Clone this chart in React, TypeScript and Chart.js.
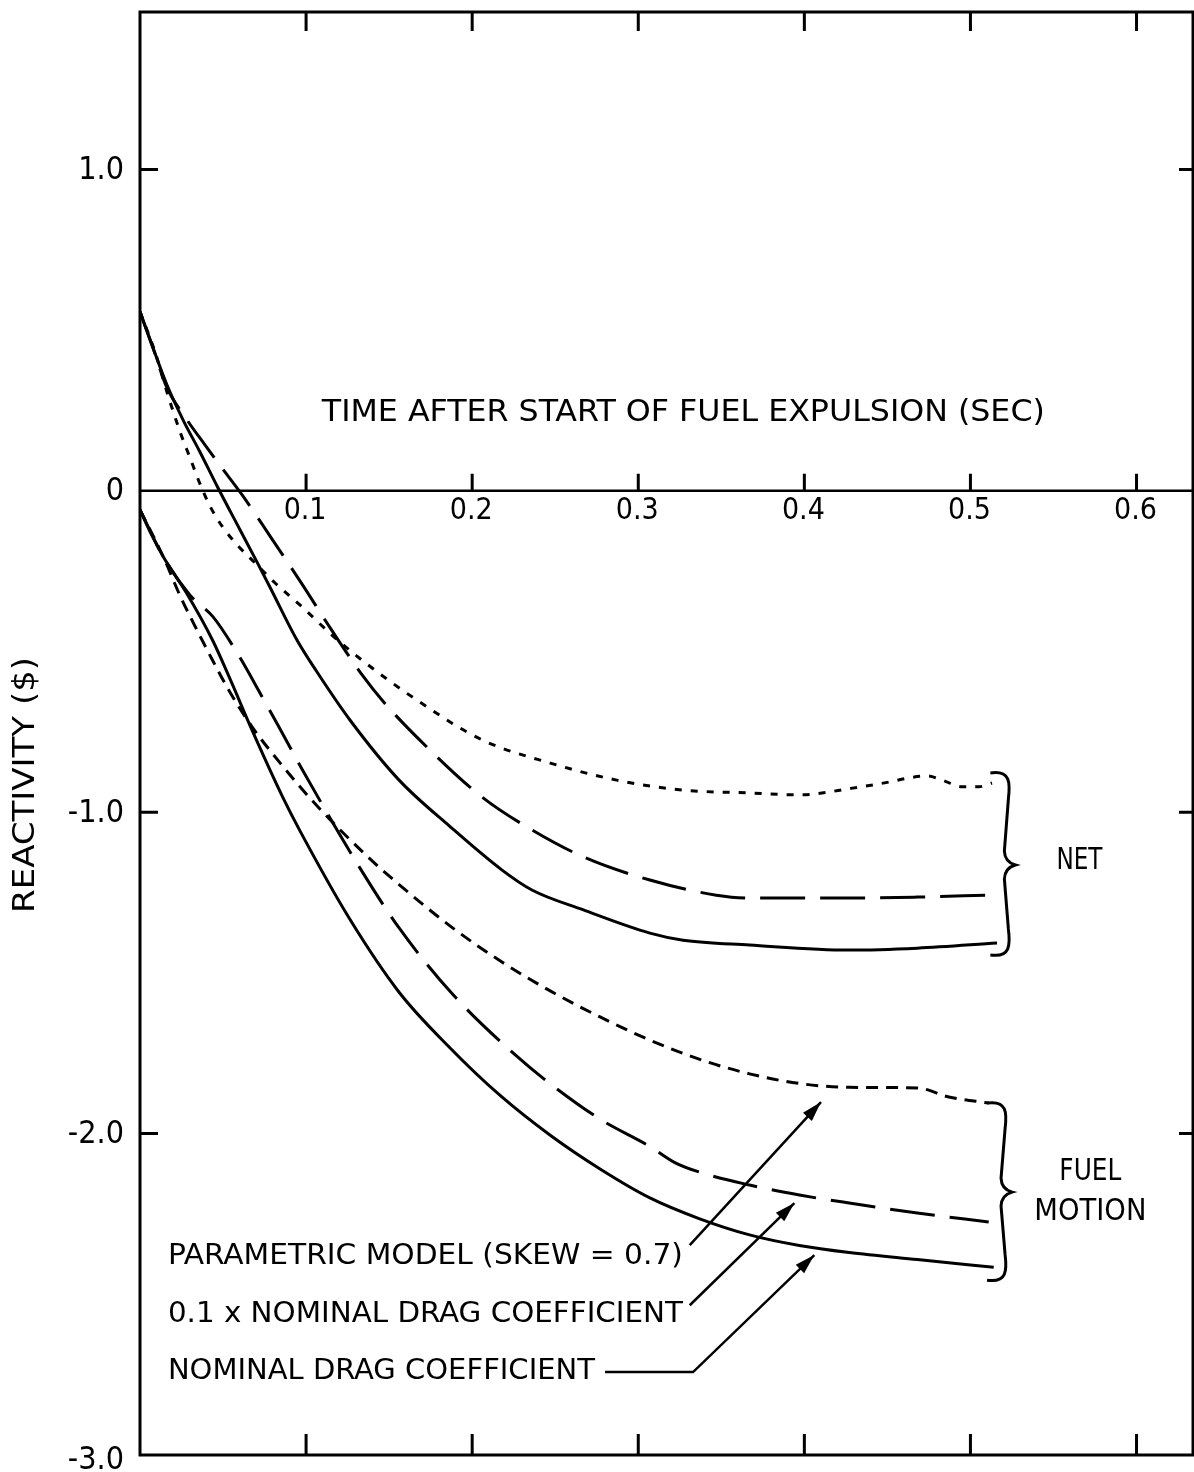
import { useEffect, useRef } from 'react';
import { Chart, registerables } from 'chart.js';

Chart.register(...registerables);

// ---------------- DATA ----------------
// Time after start of fuel expulsion (sec) / reactivity ($)
const NET_PARAM_T = [0, 0.009, 0.0162, 0.0241, 0.0301, 0.0361, 0.0421, 0.0493, 0.059, 0.0692, 0.0812, 0.0963, 0.1161, 0.1342, 0.1667, 0.206, 0.247, 0.287, 0.327, 0.367, 0.397, 0.429, 0.451, 0.463, 0.474, 0.483, 0.495, 0.505, 0.513];
const NET_PARAM_V = [0.557, 0.433, 0.308, 0.184, 0.103, 0.022, -0.047, -0.109, -0.171, -0.224, -0.286, -0.355, -0.451, -0.529, -0.651, -0.775, -0.847, -0.9, -0.931, -0.94, -0.946, -0.925, -0.906, -0.893, -0.887, -0.9, -0.921, -0.921, -0.909];

const NET_DRAG01_T = [0, 0.0078, 0.0162, 0.0271, 0.0391, 0.0511, 0.0632, 0.0782, 0.0963, 0.1161, 0.1342, 0.1462, 0.1727, 0.206, 0.236, 0.267, 0.307, 0.347, 0.367, 0.427, 0.468, 0.51];
const NET_DRAG01_V = [0.557, 0.445, 0.321, 0.23, 0.143, 0.059, -0.025, -0.14, -0.28, -0.439, -0.576, -0.654, -0.797, -0.953, -1.055, -1.139, -1.211, -1.258, -1.267, -1.267, -1.264, -1.258];

const NET_NOM_T = [0, 0.0072, 0.0162, 0.0259, 0.0361, 0.0463, 0.0602, 0.0704, 0.0782, 0.0945, 0.1065, 0.1264, 0.156, 0.187, 0.218, 0.236, 0.267, 0.307, 0.327, 0.367, 0.427, 0.468, 0.516];
const NET_NOM_V = [0.557, 0.454, 0.33, 0.221, 0.121, 0.016, -0.121, -0.221, -0.299, -0.464, -0.563, -0.713, -0.9, -1.046, -1.18, -1.242, -1.304, -1.376, -1.398, -1.413, -1.429, -1.423, -1.407];

const FM_PARAM_T = [0, 0.014, 0.024, 0.034, 0.044, 0.054, 0.068, 0.086, 0.106, 0.137, 0.156, 0.187, 0.217, 0.247, 0.277, 0.307, 0.337, 0.367, 0.397, 0.427, 0.468, 0.487, 0.511];
const FM_PARAM_V = [-0.059, -0.205, -0.325, -0.43, -0.53, -0.625, -0.738, -0.857, -0.977, -1.138, -1.225, -1.355, -1.463, -1.556, -1.637, -1.709, -1.769, -1.814, -1.844, -1.856, -1.858, -1.886, -1.905];

const FM_DRAG01_T = [0, 0.014, 0.03, 0.044, 0.058, 0.074, 0.084, 0.098, 0.132, 0.156, 0.188, 0.227, 0.247, 0.277, 0.307, 0.322, 0.337, 0.367, 0.397, 0.427, 0.468, 0.511];
const FM_DRAG01_V = [-0.059, -0.205, -0.324, -0.392, -0.5, -0.645, -0.738, -0.87, -1.17, -1.36, -1.565, -1.76, -1.845, -1.955, -2.04, -2.09, -2.12, -2.16, -2.191, -2.216, -2.247, -2.275];

const FM_NOM_T = [0, 0.007, 0.014, 0.028, 0.044, 0.054, 0.068, 0.086, 0.096, 0.126, 0.156, 0.187, 0.217, 0.247, 0.277, 0.307, 0.337, 0.367, 0.397, 0.427, 0.468, 0.514];
const FM_NOM_V = [-0.059, -0.137, -0.205, -0.318, -0.468, -0.583, -0.751, -0.954, -1.055, -1.33, -1.56, -1.735, -1.882, -2.005, -2.11, -2.2, -2.265, -2.315, -2.348, -2.37, -2.392, -2.416];

const X_TICKS = [0.1, 0.2, 0.3, 0.4, 0.5, 0.6];
const X_TICK_LABELS = ['0.1', '0.2', '0.3', '0.4', '0.5', '0.6'];
const Y_TICKS = [1, 0, -1, -2, -3];
const Y_TICK_LABELS = ['1.0', '0', '-1.0', '-2.0', '-3.0'];
const Y_FRAME_TICKS = [1, -1, -2];

const X_TITLE = 'TIME AFTER START OF FUEL EXPULSION (SEC)';
const Y_TITLE = 'REACTIVITY ($)';
const LEGEND_TEXTS = ['PARAMETRIC MODEL (SKEW = 0.7)', '0.1 x NOMINAL DRAG COEFFICIENT', 'NOMINAL DRAG COEFFICIENT'];
const GROUP_LABELS = ['NET', 'FUEL', 'MOTION'];

// ---------------- LAYOUT / STYLE ----------------
const W = 1194;
const H = 1472;
const X_MIN = 0;
const X_MAX = 0.634;
const Y_MIN = -3;
const Y_MAX = 1.49;
const FONT = '"DejaVu Sans Condensed", "Liberation Sans Narrow", "DejaVu Sans", sans-serif';

const LAYOUT = {
  xTitle: { t: 0.1095, v: 0.243, size: 31, width: 723 },
  yTitle: { dx: -114, v: -0.915, size: 30, width: 256 },
  legend: [
    { t: 0.0168, v: -2.384, size: 28, width: 515 },
    { t: 0.0168, v: -2.562, size: 28, width: 515 },
    { t: 0.0168, v: -2.742, size: 28, width: 427 },
  ],
  groupLabels: [
    { t: 0.5656, v: -1.152, size: 30, width: 46 },
    { t: 0.5722, v: -2.12, size: 30, width: 62 },
    { t: 0.5722, v: -2.244, size: 30, width: 112 },
  ],
  braces: [
    { t: 0.512, top: -0.878, mid: -1.164, bot: -1.444, w: 20 },
    { t: 0.51, top: -1.905, mid: -2.182, bot: -2.456, w: 20 },
  ],
  arrows: [
    [[0.331, -2.347], [0.41, -1.902]],
    [[0.331, -2.534], [0.394, -2.216]],
    [[0.28, -2.742], [0.333, -2.742], [0.406, -2.378]],
  ],
};

function pts(ts: number[], vs: number[]) {
  return ts.map((t, i) => ({ x: t, y: vs[i] }));
}

function fitText(ctx: CanvasRenderingContext2D, text: string, x: number, y: number, size: number, width: number, align: CanvasTextAlign) {
  ctx.save();
  ctx.font = `${size}px ${FONT}`;
  const w = ctx.measureText(text).width;
  const sx = width && w ? width / w : 1;
  ctx.translate(x, y);
  ctx.scale(sx, 1);
  ctx.textAlign = align;
  ctx.textBaseline = 'middle';
  ctx.fillStyle = '#000';
  ctx.fillText(text, 0, 0);
  ctx.restore();
}

const framePlugin = {
  id: 'framePlugin',
  afterDraw(chart: any) {
    const ctx: CanvasRenderingContext2D = chart.ctx;
    const ca = chart.chartArea;
    const xs = chart.scales.x;
    const ys = chart.scales.y;
    const px = (t: number) => xs.getPixelForValue(t);
    const py = (v: number) => ys.getPixelForValue(v);

    ctx.save();
    ctx.strokeStyle = '#000';
    ctx.fillStyle = '#000';
    ctx.lineWidth = 3;
    ctx.setLineDash([]);
    ctx.lineCap = 'butt';

    // frame
    ctx.strokeRect(ca.left, ca.top, ca.right - ca.left, ca.bottom - ca.top);

    // x axis at zero
    const y0 = py(0);
    ctx.lineWidth = 2.5;
    ctx.beginPath();
    ctx.moveTo(ca.left, y0);
    ctx.lineTo(ca.right, y0);
    ctx.stroke();

    ctx.lineWidth = 3;
    X_TICKS.forEach((t, i) => {
      const x = px(t);
      ctx.beginPath();
      ctx.moveTo(x, ca.top);
      ctx.lineTo(x, ca.top + 19);
      ctx.moveTo(x, ca.bottom);
      ctx.lineTo(x, ca.bottom - 21);
      ctx.moveTo(x, y0);
      ctx.lineTo(x, y0 - 17);
      ctx.stroke();
      ctx.font = `30px ${FONT}`;
      ctx.textAlign = 'center';
      ctx.textBaseline = 'top';
      ctx.fillText(X_TICK_LABELS[i], x - 1, y0 + 5);
    });

    Y_FRAME_TICKS.forEach((v) => {
      const y = py(v);
      ctx.beginPath();
      ctx.moveTo(ca.left, y);
      ctx.lineTo(ca.left + 18, y);
      ctx.moveTo(ca.right, y);
      ctx.lineTo(ca.right - 14, y);
      ctx.stroke();
    });

    Y_TICKS.forEach((v, i) => {
      const y = py(v);
      ctx.font = `32px ${FONT}`;
      ctx.textAlign = 'right';
      ctx.textBaseline = 'middle';
      ctx.fillText(Y_TICK_LABELS[i], ca.left - 16, y + (v === Y_MIN ? 6 : 1));
    });

    // titles
    const xt = LAYOUT.xTitle;
    fitText(ctx, X_TITLE, px(xt.t), py(xt.v), xt.size, xt.width, 'left');

    const yt = LAYOUT.yTitle;
    ctx.save();
    ctx.translate(ca.left + yt.dx, py(yt.v));
    ctx.rotate(-Math.PI / 2);
    fitText(ctx, Y_TITLE, 0, 0, yt.size, yt.width, 'center');
    ctx.restore();

    // legend texts
    LAYOUT.legend.forEach((l, i) => {
      fitText(ctx, LEGEND_TEXTS[i], px(l.t), py(l.v), l.size, l.width, 'left');
    });

    // group labels
    LAYOUT.groupLabels.forEach((l, i) => {
      fitText(ctx, GROUP_LABELS[i], px(l.t), py(l.v), l.size, l.width, 'center');
    });

    // braces
    ctx.lineWidth = 3;
    LAYOUT.braces.forEach((b) => {
      const x = px(b.t);
      const yT = py(b.top);
      const yM = py(b.mid);
      const yB = py(b.bot);
      const w = b.w;
      ctx.beginPath();
      ctx.moveTo(x, yT);
      ctx.bezierCurveTo(x + w, yT - 3, x + w, yT + 10, x + w * 0.9, yT + 26);
      ctx.lineTo(x + w * 0.7, yM - 14);
      ctx.quadraticCurveTo(x + w * 0.72, yM - 3, x + w * 1.25, yM);
      ctx.quadraticCurveTo(x + w * 0.72, yM + 3, x + w * 0.7, yM + 14);
      ctx.lineTo(x + w * 0.9, yB - 26);
      ctx.bezierCurveTo(x + w, yB - 10, x + w, yB + 3, x, yB);
      ctx.stroke();
    });

    // arrows
    ctx.lineWidth = 2.5;
    LAYOUT.arrows.forEach((path) => {
      const p = path.map(([t, v]) => [px(t), py(v)]);
      ctx.beginPath();
      ctx.moveTo(p[0][0], p[0][1]);
      for (let k = 1; k < p.length; k++) ctx.lineTo(p[k][0], p[k][1]);
      ctx.stroke();
      const [x2, y2] = p[p.length - 1];
      const [x1, y1] = p[p.length - 2];
      const ang = Math.atan2(y2 - y1, x2 - x1);
      const L = 20;
      const hw = 6;
      ctx.beginPath();
      ctx.moveTo(x2, y2);
      ctx.lineTo(x2 - L * Math.cos(ang) + hw * Math.sin(ang), y2 - L * Math.sin(ang) - hw * Math.cos(ang));
      ctx.lineTo(x2 - L * Math.cos(ang) - hw * Math.sin(ang), y2 - L * Math.sin(ang) + hw * Math.cos(ang));
      ctx.closePath();
      ctx.fill();
    });

    ctx.restore();
  },
};

export default function App() {
  const canvasRef = useRef<HTMLCanvasElement | null>(null);

  useEffect(() => {
    document.body.style.margin = '0';
    const canvas = canvasRef.current;
    if (!canvas) return;
    const line = (data: any, dash: number[]) => ({
      data,
      borderColor: '#000',
      borderWidth: 3,
      borderDash: dash,
      pointRadius: 0,
      fill: false,
      cubicInterpolationMode: 'monotone' as const,
      borderCapStyle: 'butt' as const,
    });
    const chart = new Chart(canvas, {
      type: 'line',
      data: {
        datasets: [
          { label: 'Net - parametric model', ...line(pts(NET_PARAM_T, NET_PARAM_V), [7, 9]) },
          { label: 'Net - 0.1 x nominal drag', ...line(pts(NET_DRAG01_T, NET_DRAG01_V), [45, 15]) },
          { label: 'Net - nominal drag', ...line(pts(NET_NOM_T, NET_NOM_V), []) },
          { label: 'Fuel motion - parametric model', ...line(pts(FM_PARAM_T, FM_PARAM_V), [12, 8]) },
          { label: 'Fuel motion - 0.1 x nominal drag', ...line(pts(FM_DRAG01_T, FM_DRAG01_V), [45, 15]) },
          { label: 'Fuel motion - nominal drag', ...line(pts(FM_NOM_T, FM_NOM_V), []) },
        ],
      },
      options: {
        animation: false,
        responsive: false,
        devicePixelRatio: 1,
        layout: { padding: { left: 140, right: 1, top: 12, bottom: 17 } },
        plugins: { legend: { display: false }, tooltip: { enabled: false }, title: { display: false } },
        events: [],
        scales: {
          x: { type: 'linear', min: X_MIN, max: X_MAX, display: false },
          y: { type: 'linear', min: Y_MIN, max: Y_MAX, display: false },
        },
      },
      plugins: [framePlugin],
    });
    return () => chart.destroy();
  }, []);

  return (
    <div style={{ width: W, height: H, background: '#fff' }}>
      <canvas ref={canvasRef} width={W} height={H} style={{ display: 'block' }} />
    </div>
  );
}
